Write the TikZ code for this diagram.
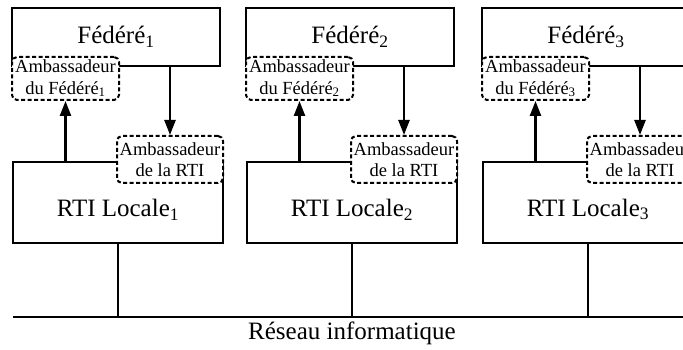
\documentclass[tikz,border=0pt]{standalone}
\usepackage{fontspec}
\setmainfont{Liberation Serif}
\usetikzlibrary{arrows.meta}
\begin{document}
\begin{tikzpicture}[x=1pt,y=-1pt,
  solidbox/.style={draw, line width=2.4pt, rectangle, inner sep=0pt},
  ambbox/.style={draw, fill=white, dash pattern=on 4pt off 2.5pt, rounded corners=5pt,
    line width=2pt, align=center, inner sep=0pt,
    font=\fontsize{18.5}{21.5}\selectfont},
  big/.style={font=\fontsize{25}{29}\selectfont},
  link/.style={line width=2.4pt},
  arr/.style={link, -{Triangle[length=15pt,width=11pt]}}]
\clip (0,0) rectangle (683,350);
\coordinate (netL) at (13,317);
\coordinate (netR) at (690,317);
\foreach \i/\L in {1/12,2/246,3/482}{
  \node[solidbox, big, minimum width=208pt, minimum height=58pt] (fed\i) at (\L+104,37) {Fédéré\textsubscript{\i}};
  \node[solidbox, minimum width=210pt, minimum height=81pt] (rti\i) at (\L+106,202.5) {};
  \node[big] (rtit\i) at ([yshift=-7pt]rti\i.center) {RTI Locale\textsubscript{\i}};
  \node[ambbox, minimum width=107pt, minimum height=43pt] (ambf\i) at (\L+53.5,78.5) {Ambassadeur\\du Fédéré\textsubscript{\i}};
  \node[ambbox, minimum width=106pt, minimum height=47pt] (ambr\i) at (\L+158,159.5) {Ambassadeur\\de la RTI};
  \draw[arr] (ambf\i.south |- rti\i.north) -- (ambf\i.south);
  \draw[arr] (ambr\i.north |- fed\i.south) -- (ambr\i.north);
  \draw[link] (rti\i.south) -- (rti\i.south |- netL) coordinate (net\i);
}
\draw[link] (netL) -- (netR);
\node[big, anchor=north] (netlabel) at ([yshift=-1pt]net2) {Réseau informatique};
\end{tikzpicture}
\end{document}
